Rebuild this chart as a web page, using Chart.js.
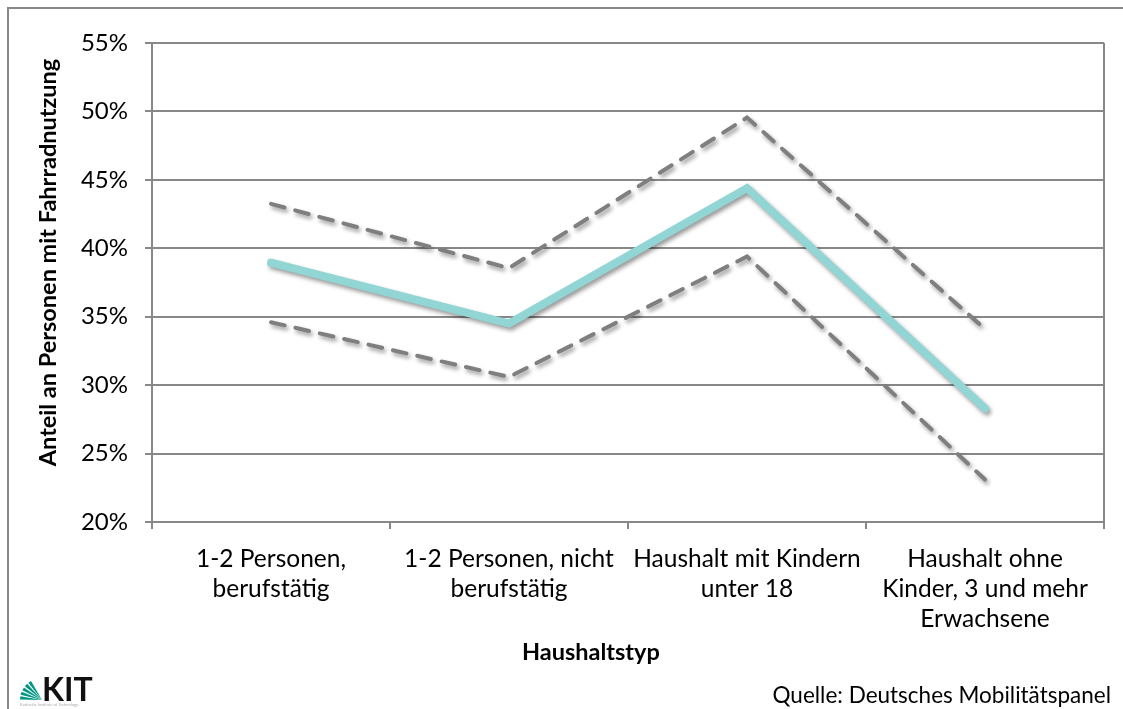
<!DOCTYPE html>
<html>
<head>
<meta charset="utf-8">
<script src="https://cdn.jsdelivr.net/npm/chart.js@4"></script>
<style>
  html, body { margin: 0; padding: 0; background: #fff; }
  #wrap { width: 1123px; height: 709px; position: relative; }
</style>
</head>
<body>
<div id="wrap"><canvas id="chart"></canvas></div>
<script>
// values
const categories = [
    ['1-2 Personen,', 'berufstätig'],
    ['1-2 Personen, nicht', 'berufstätig'],
    ['Haushalt mit Kindern', 'unter 18'],
    ['Haushalt ohne', 'Kinder, 3 und mehr', 'Erwachsene']
];
const shareValues = [38.95, 34.5, 44.4, 28.3];
const upperBound = [43.25, 38.55, 49.55, 34.1];
const lowerBound = [34.6, 30.6, 39.4, 23.1];
const yTicks = [20, 25, 30, 35, 40, 45, 50, 55];

const FONT = 'Lato, "Liberation Sans", sans-serif';
const GRID = '#888888';

// outer frame, plot box right edge, source note and logo
const decorations = {
    id: 'decorations',
    beforeDraw(chart) {
        const ctx = chart.ctx;
        ctx.save();
        ctx.strokeStyle = GRID;
        ctx.lineWidth = 2;
        ctx.beginPath();
        ctx.moveTo(8, 730);
        ctx.lineTo(8, 8);
        ctx.lineTo(1140, 8);
        ctx.stroke();
        ctx.restore();
    },
    afterDraw(chart) {
        const ctx = chart.ctx;
        const a = chart.chartArea;
        ctx.save();
        ctx.strokeStyle = GRID;
        ctx.lineWidth = 2;
        ctx.beginPath();
        ctx.moveTo(a.right, a.top);
        ctx.lineTo(a.right, a.bottom + 7);
        ctx.stroke();

        ctx.fillStyle = '#000';
        ctx.font = '22.5px ' + FONT;
        ctx.textAlign = 'right';
        ctx.textBaseline = 'alphabetic';
        ctx.fillText('Quelle: Deutsches Mobilitätspanel', 1111, 703);

        // KIT logo: green fan + letters
        ctx.fillStyle = '#009682';
        const cx = 42, cy = 700;
        for (let i = 0; i < 5; i++) {
            const a0 = Math.PI + i * 0.22 + 0.02;
            const a1 = a0 + 0.15;
            ctx.beginPath();
            ctx.moveTo(cx, cy);
            ctx.arc(cx, cy, 22, a0, a1);
            ctx.closePath();
            ctx.fill();
        }
        ctx.fillStyle = '#111';
        ctx.font = 'bold 32px ' + FONT;
        ctx.textAlign = 'left';
        ctx.fillText('KIT', 42, 701);
        ctx.fillStyle = '#aaa';
        ctx.font = '4px ' + FONT;
        ctx.fillText('Karlsruhe Institute of Technology', 20, 706);
        ctx.restore();
    }
};

// soft drop shadow under the lines
const lineShadow = {
    id: 'lineShadow',
    beforeDatasetsDraw(chart) {
        const ctx = chart.ctx;
        ctx.save();
        ctx.shadowColor = 'rgba(0,0,0,0.4)';
        ctx.shadowBlur = 4;
        ctx.shadowOffsetX = 2;
        ctx.shadowOffsetY = 3;
    },
    afterDatasetsDraw(chart) {
        chart.ctx.restore();
    }
};

new Chart(document.getElementById('chart'), {
    type: 'line',
    data: {
        labels: categories,
        datasets: [
            {
                label: 'Anteil',
                data: shareValues,
                borderColor: '#92d5d5',
                borderWidth: 8,
                borderCapStyle: 'round',
                borderJoinStyle: 'miter',
                pointRadius: 0,
                tension: 0,
                order: 1
            },
            {
                label: 'Obere Grenze',
                data: upperBound,
                borderColor: '#7f7f7f',
                borderWidth: 4,
                borderDash: [14, 11],
                borderCapStyle: 'round',
                pointRadius: 0,
                tension: 0,
                order: 2
            },
            {
                label: 'Untere Grenze',
                data: lowerBound,
                borderColor: '#7f7f7f',
                borderWidth: 4,
                borderDash: [14, 11],
                borderCapStyle: 'round',
                pointRadius: 0,
                tension: 0,
                order: 2
            }
        ]
    },
    options: {
        responsive: true,
        maintainAspectRatio: false,
        animation: false,
        layout: { padding: { top: 43, right: 19, left: 0, bottom: 0 } },
        plugins: {
            legend: { display: false },
            tooltip: { enabled: false }
        },
        scales: {
            x: {
                offset: true,
                afterFit(scale) { scale.height = 187; },
                grid: {
                    offset: true,
                    color: GRID,
                    lineWidth: 2,
                    drawOnChartArea: false,
                    tickLength: 7
                },
                border: { color: GRID, width: 2 },
                ticks: {
                    color: '#000',
                    font: { family: FONT, size: 24.5, lineHeight: 1.23 },
                    maxRotation: 0,
                    autoSkip: false,
                    padding: 15
                },
                title: {
                    display: true,
                    // trailing spaces nudge the centred title a bit left, as in the original
                    text: 'Haushaltstyp             ',
                    color: '#000',
                    font: { family: FONT, size: 23.5, weight: 'bold', lineHeight: 1.2 },
                    padding: { top: 0, bottom: 42 }
                }
            },
            y: {
                min: 20,
                max: 55,
                afterFit(scale) { scale.width = 152; },
                afterBuildTicks(scale) {
                    scale.ticks = yTicks.map(v => ({ value: v }));
                },
                grid: {
                    color: GRID,
                    lineWidth: 2,
                    tickLength: 7
                },
                border: { color: GRID, width: 2 },
                ticks: {
                    color: '#000',
                    font: { family: FONT, size: 24 },
                    padding: 17,
                    callback: v => v + '%'
                },
                title: {
                    display: true,
                    text: '       Anteil an Personen mit Fahrradnutzung',
                    color: '#000',
                    font: { family: FONT, size: 23.5, weight: 'bold', lineHeight: 1.2 },
                    padding: { top: 34, bottom: 0 }
                }
            }
        }
    },
    plugins: [decorations, lineShadow]
});
</script>
</body>
</html>
